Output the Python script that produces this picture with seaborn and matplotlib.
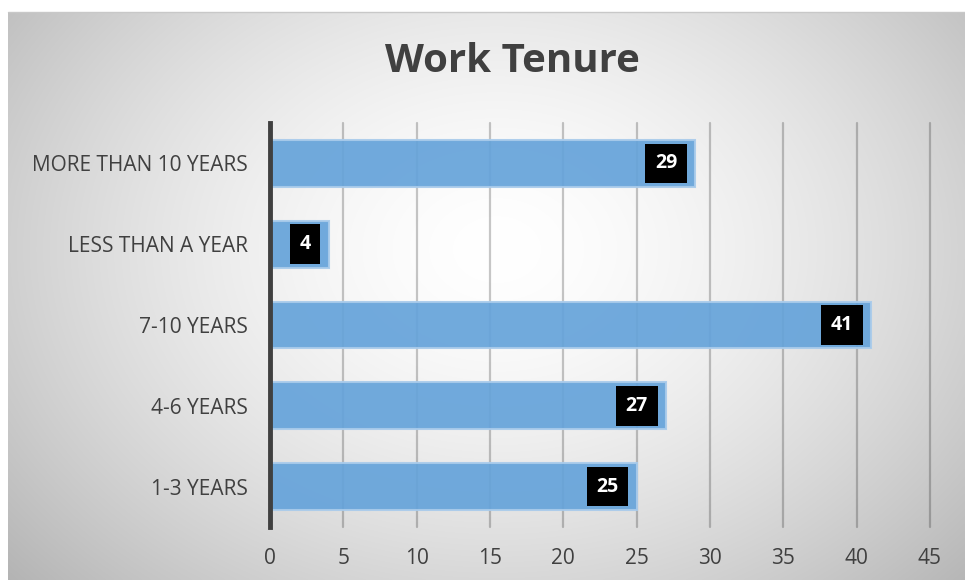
import numpy as np
import pandas as pd
import matplotlib
matplotlib.use("Agg")
import matplotlib.pyplot as plt
import seaborn as sns

categories = ["MORE THAN 10 YEARS", "LESS THAN A YEAR", "7-10 YEARS", "4-6 YEARS", "1-3 YEARS"]
values = [29, 4, 41, 27, 25]
x_ticks = [0, 5, 10, 15, 20, 25, 30, 35, 40, 45]
title = "Work Tenure"

sns.set_theme(style="white")
plt.rcParams['font.family'] = ['Open Sans', 'DejaVu Sans']

W, H = 965, 580
fig = plt.figure(figsize=(W / 100, H / 100), dpi=100)
fig.patch.set_facecolor("white")

# radial gradient background
bg = fig.add_axes([8 / W, 0, (W - 8) / W, (H - 12) / H])
bg.set_axis_off()
yy, xx = np.mgrid[0:300, 0:500]
cx, cy = 255, 125
d = np.sqrt(((xx - cx) / 300.0) ** 2 + ((yy - cy) / 230.0) ** 2)
shade = 1.0 - 0.24 * np.clip(d, 0, 1.3) ** 1.6
img = np.dstack([shade, shade, shade])
bg.imshow(np.clip(img, 0, 1), aspect="auto", extent=[0, 1, 0, 1], interpolation="bilinear")
bg.set_xlim(0, 1); bg.set_ylim(0, 1)
fig.add_artist(plt.Line2D([8 / W, 1], [1 - 12 / H, 1 - 12 / H], color="#c8c8c8", lw=1, transform=fig.transFigure))

ax = fig.add_axes([270 / W, 1 - 527 / H, (930 - 270) / W, (527 - 123) / H])
ax.patch.set_alpha(0)

df = pd.DataFrame({"cat": categories, "val": values})
sns.barplot(data=df, x="val", y="cat", order=categories, orient="h", ax=ax, saturation=1,
            color="#65A3DA", alpha=0.92, width=0.58, edgecolor="#A9CBEB", linewidth=1.5, zorder=3)

ax.set_xlim(0, 45)
ax.set_xticks(x_ticks)
ax.set_xticklabels([str(t) for t in x_ticks])
ax.set_xlabel("")
ax.set_ylabel("")
for t in x_ticks[1:]:
    ax.axvline(t, color="black", alpha=0.22, lw=1.6, zorder=1, clip_on=False)
for s in ["top", "right", "bottom"]:
    ax.spines[s].set_visible(False)
ax.spines["left"].set_color("#404040")
ax.spines["left"].set_linewidth(3.5)
ax.spines["left"].set_zorder(5)
ax.tick_params(axis="x", length=0, pad=15, labelsize=15, labelcolor="#404040")
ax.tick_params(axis="y", length=0, pad=16, labelsize=15, labelcolor="#404040")

for i, v in enumerate(values):
    ax.annotate(str(v), xy=(v, i), xytext=(-13, 0), textcoords="offset points",
                ha="right", va="center", color="white", fontsize=14, fontweight="bold",
                bbox=dict(boxstyle="square,pad=0.5", fc="black", ec="none"), zorder=6)

fig.text(512 / W, 1 - 62 / H, title, ha="center", va="center", fontsize=29,
         fontweight="bold", color="#404040")

fig.savefig("out.png", dpi=100)
